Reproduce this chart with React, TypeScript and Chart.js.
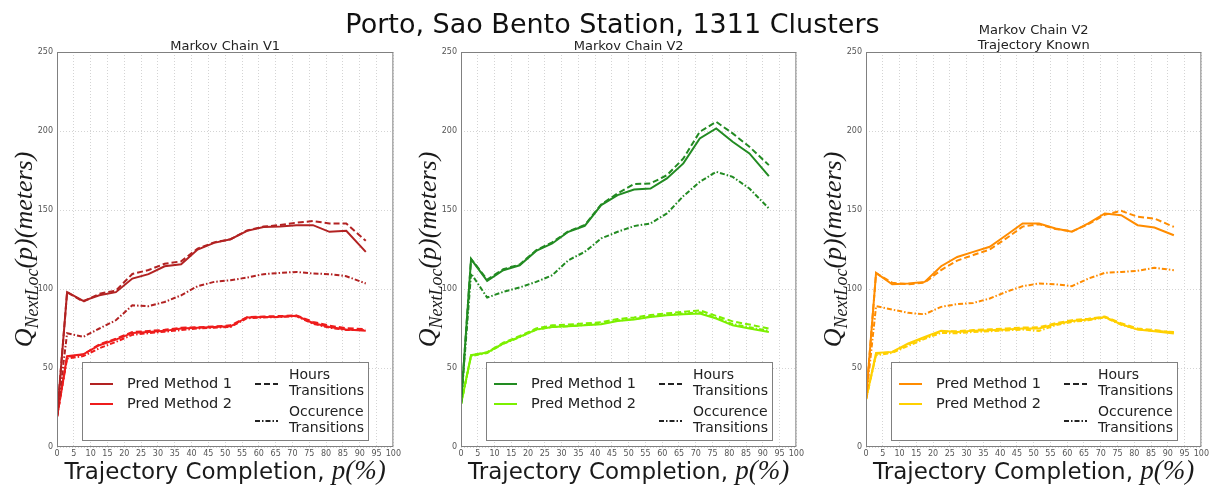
import React, { useEffect, useRef } from "react";
import { Chart, registerables } from "chart.js";
Chart.register(...registerables);

// ---------- data ----------
const COMPLETION = [0, 3, 7.8, 12.6, 17.5, 22.4, 27.2, 32, 36.9, 41.8, 46.7, 51.6, 56.5, 61.4, 66.3, 71.2, 76.1, 81, 86, 91.8];

const MAIN_TITLE = "Porto, Sao Bento Station, 1311 Clusters";
const PANEL_TITLES = [["Markov Chain V1"], ["Markov Chain V2"], ["Markov Chain V2", "Trajectory Known"]];
const LEGEND_METHODS = ["Pred Method 1", "Pred Method 2"];
const LEGEND_STYLES = [["Hours", "Transitions"], ["Occurence", "Transitions"]];

// Markov Chain V1
const v1Pred1 = [19, 98, 92.5, 96, 98, 106.6, 109.4, 114.4, 115.7, 125, 129.2, 131.5, 136.8, 139.3, 139.5, 140.4, 140.4, 136.2, 136.8, 123.5];
const v1Pred1Hours = [19, 98, 92, 97, 99, 109.5, 112, 116, 117.5, 125.5, 129.5, 131.5, 137, 139.5, 140.5, 142, 143, 141.5, 141.5, 130.5];
const v1Pred1Occ = [19, 72, 69.7, 75, 80.2, 89.7, 89.1, 91.8, 96, 101.8, 104.5, 105.6, 107.2, 109.4, 110.2, 110.8, 109.8, 109.4, 108.1, 103.5];
const v1Pred2 = [19, 57.5, 58.7, 64.4, 68, 72.2, 72.8, 73.5, 75, 75.4, 76, 76.4, 82, 82.3, 82.5, 83, 78.5, 76, 74.3, 73.5];
const v1Pred2Hours = [19, 57, 58.5, 65, 68.5, 72.8, 73.4, 74.2, 75.5, 75.8, 76.3, 77, 82.2, 82.6, 82.9, 83.3, 79.2, 76.8, 75.2, 74.5];
const v1Pred2Occ = [19, 56, 57.5, 62.5, 66.5, 71, 72, 73, 74, 75, 75.5, 76, 81.5, 82, 82.3, 82.8, 78, 75.5, 74, 74];

// Markov Chain V2
const v2Pred1 = [27, 118.9, 105.2, 111.9, 115, 124.1, 128.8, 136.2, 140, 153.1, 159.4, 163, 163.6, 170, 179.5, 195.3, 201.6, 193.2, 185.8, 171.4];
const v2Pred1Hours = [27, 119, 106, 112.5, 115.5, 124.5, 129.5, 136.5, 140.5, 153.5, 160.5, 166.4, 166.8, 172, 182.6, 199.5, 205.8, 198.5, 190, 178.4];
const v2Pred1Occ = [27, 109.8, 94.6, 98.2, 101, 104.5, 108.7, 118.2, 123.5, 132, 136.2, 139.8, 141.5, 147.8, 158.8, 167.8, 174.2, 171, 163.6, 151];
const v2Pred2 = [27, 58.1, 59.8, 65.5, 69.7, 74.3, 76, 76.4, 77, 77.7, 79.8, 80.7, 82.3, 83.4, 84, 84.5, 81.3, 77, 75, 72.8];
const v2Pred2Hours = [27, 58, 60, 66, 70.3, 75, 77, 77.5, 78.2, 79, 81, 82, 83.5, 84.6, 85.5, 86.5, 83, 79.5, 77.5, 75];
const v2Pred2Occ = [27, 57.5, 59.5, 65.3, 69.5, 74.2, 76, 76.5, 77.2, 78, 80, 81, 82.6, 83.8, 84.5, 85.2, 81.8, 77.8, 75.8, 73.5];

// Markov Chain V2, Trajectory Known
const v3Pred1 = [30, 110.2, 103, 103.5, 104.5, 114.4, 120.3, 123.5, 126.7, 134, 141.5, 141.5, 138.3, 136.2, 141.5, 147.8, 146.7, 140.4, 138.9, 134];
const v3Pred1Hours = [30, 110, 104, 103, 104, 112, 118, 121.5, 125, 132, 139.5, 141, 138, 136.5, 141, 147, 149.5, 145.7, 144.6, 139.3];
const v3Pred1Occ = [30, 89.1, 87, 84.9, 84, 88.7, 90.4, 91.2, 94, 98.2, 101.8, 103.5, 103, 101.8, 106.6, 110.2, 110.8, 111.5, 113.4, 111.9];
const v3Pred2 = [30, 59.5, 60.2, 65.5, 69.7, 73.5, 72.8, 73.5, 73.9, 74.3, 75, 75, 77.7, 79.8, 80.7, 82.3, 77.7, 74.3, 73.3, 71.8];
const v3Pred2Hours = [30, 59, 60, 65, 69.2, 73, 73.3, 74, 74.5, 75, 75.6, 75.8, 78.3, 80.3, 81.2, 82.6, 78.3, 75, 74, 72.5];
const v3Pred2Occ = [30, 58, 59.5, 64, 68.5, 72.2, 72, 72.8, 73.3, 73.8, 74.3, 73.5, 77, 79.2, 80.2, 82, 77.3, 74.5, 73.5, 72.8];

// ---------- styling ----------
const SANS = '"DejaVu Sans", sans-serif';
const SERIF = '"Liberation Serif", "DejaVu Serif", serif';
const DASH_HOURS = [6, 3];
const DASH_OCC = [5, 2, 1.5, 2];

const PANELS = [
  {
    left: 0, width: 403, plotLeft: 57, plotRight: 395,
    titles: PANEL_TITLES[0], titleBaselines: [50],
    colors: ["#b22222", "#ee1c1c"],
    series: [[v1Pred1, v1Pred1Hours, v1Pred1Occ], [v1Pred2, v1Pred2Hours, v1Pred2Occ]],
  },
  {
    left: 403, width: 403, plotLeft: 461, plotRight: 798,
    titles: PANEL_TITLES[1], titleBaselines: [50],
    colors: ["#228b22", "#7cf000"],
    series: [[v2Pred1, v2Pred1Hours, v2Pred1Occ], [v2Pred2, v2Pred2Hours, v2Pred2Occ]],
  },
  {
    left: 806, width: 405, plotLeft: 866, plotRight: 1203,
    titles: PANEL_TITLES[2], titleBaselines: [34, 49],
    colors: ["#ff8c00", "#ffd000"],
    series: [[v3Pred1, v3Pred1Hours, v3Pred1Occ], [v3Pred2, v3Pred2Hours, v3Pred2Occ]],
  },
];

const PLOT_TOP = 52;
const PLOT_BOTTOM = 447;
const H = 486;

function decorPlugin(p: any) {
  return {
    id: "decor",
    afterDraw(chart: any) {
      const ctx = chart.ctx;
      const a = chart.chartArea;
      ctx.save();
      // frame
      ctx.strokeStyle = "#808080";
      ctx.lineWidth = 1;
      ctx.setLineDash([]);
      ctx.strokeRect(a.left + 0.5, a.top + 0.5, a.right - a.left - 1, a.bottom - a.top - 1);

      // subplot title
      ctx.fillStyle = "#222";
      ctx.font = `13px ${SANS}`;
      ctx.textAlign = "center";
      ctx.textBaseline = "alphabetic";
      const cx = (a.left + a.right) / 2;
      p.titles.forEach((t: string, i: number) => ctx.fillText(t, cx, p.titleBaselines[i]));

      // y label Q_{NextLoc}(p)(meters)
      ctx.save();
      ctx.translate(a.left - 25, (a.top + a.bottom) / 2);
      ctx.rotate(-Math.PI / 2);
      ctx.textAlign = "left";
      ctx.fillStyle = "#1a1a1a";
      const fMain = `italic 26px ${SERIF}`;
      const fSub = `italic 18px ${SERIF}`;
      ctx.font = fMain;
      const wQ = ctx.measureText("Q").width;
      const wRest = ctx.measureText("(p)(meters)").width;
      ctx.font = fSub;
      const wSub = ctx.measureText("NextLoc").width;
      let x = -(wQ + wSub + wRest) / 2;
      ctx.font = fMain;
      ctx.fillText("Q", x, 0);
      x += wQ;
      ctx.font = fSub;
      ctx.fillText("NextLoc", x, 6);
      x += wSub;
      ctx.font = fMain;
      ctx.fillText("(p)(meters)", x, 0);
      ctx.restore();

      // x label
      const part1 = "Trajectory Completion, ";
      const part2 = "p(%)";
      ctx.font = `23px ${SANS}`;
      const w1 = ctx.measureText(part1).width;
      ctx.font = `italic 27px ${SERIF}`;
      const w2 = ctx.measureText(part2).width;
      const sx = cx - (w1 + w2) / 2;
      ctx.textAlign = "left";
      ctx.fillStyle = "#1a1a1a";
      ctx.font = `23px ${SANS}`;
      ctx.fillText(part1, sx, 479);
      ctx.font = `italic 27px ${SERIF}`;
      ctx.fillText(part2, sx + w1, 479);

      // legend
      const bx = a.left + 25;
      const by = a.top + 310;
      const bw = 286;
      const bh = 78;
      ctx.fillStyle = "#ffffff";
      ctx.fillRect(bx, by, bw, bh);
      ctx.strokeStyle = "#808080";
      ctx.lineWidth = 1;
      ctx.strokeRect(bx + 0.5, by + 0.5, bw, bh);

      ctx.textBaseline = "middle";
      ctx.lineWidth = 2;
      ctx.font = `14.5px ${SANS}`;
      LEGEND_METHODS.forEach((label, i) => {
        const yy = by + 22 + i * 20;
        ctx.strokeStyle = p.colors[i];
        ctx.setLineDash([]);
        ctx.beginPath();
        ctx.moveTo(bx + 8, yy);
        ctx.lineTo(bx + 31, yy);
        ctx.stroke();
        ctx.fillStyle = "#222";
        ctx.fillText(label, bx + 45, yy);
      });
      ctx.font = `14px ${SANS}`;
      const dashes = [DASH_HOURS, DASH_OCC];
      const sampleY = [by + 22, by + 59];
      const textY = [[by + 13, by + 29], [by + 50, by + 66]];
      LEGEND_STYLES.forEach((lines, i) => {
        ctx.strokeStyle = "#222";
        ctx.setLineDash(dashes[i]);
        ctx.beginPath();
        ctx.moveTo(bx + 173, sampleY[i]);
        ctx.lineTo(bx + 196, sampleY[i]);
        ctx.stroke();
        ctx.setLineDash([]);
        ctx.fillStyle = "#222";
        lines.forEach((t, j) => ctx.fillText(t, bx + 207, textY[i][j]));
      });
      ctx.restore();
    },
  };
}

function Panel({ p }: { p: any }) {
  const ref = useRef<HTMLCanvasElement | null>(null);
  useEffect(() => {
    if (!ref.current) return;
    const styles = [[], DASH_HOURS, DASH_OCC];
    const datasets: any[] = [];
    p.series.forEach((group: number[][], m: number) => {
      group.forEach((vals: number[], s: number) => {
        datasets.push({
          label: `${LEGEND_METHODS[m]} ${s}`,
          data: vals.map((v, i) => ({ x: COMPLETION[i], y: v })),
          borderColor: p.colors[m],
          backgroundColor: p.colors[m],
          borderWidth: 2,
          borderDash: styles[s],
          pointRadius: 0,
          tension: 0,
          fill: false,
        });
      });
    });
    const tickFont = { size: 8, family: SANS };
    const chart = new Chart(ref.current, {
      type: "line",
      data: { datasets },
      options: {
        animation: false,
        responsive: false,
        maintainAspectRatio: false,
        layout: {
          padding: { top: PLOT_TOP, left: 0, right: p.left + p.width - p.plotRight, bottom: 0 },
        },
        plugins: { legend: { display: false }, tooltip: { enabled: false }, title: { display: false } },
        scales: {
          x: {
            type: "linear",
            min: 0,
            max: 100,
            ticks: { stepSize: 5, autoSkip: false, maxRotation: 0, font: tickFont, color: "#555", padding: 2 },
            grid: { color: "#d4d4d4", lineWidth: 1, drawTicks: false },
            border: { display: false, dash: [1, 2] },
            afterFit: (s: any) => { s.height = H - PLOT_BOTTOM; },
          },
          y: {
            min: 0,
            max: 250,
            ticks: { stepSize: 50, font: tickFont, color: "#555", padding: 4 },
            grid: { color: "#d4d4d4", lineWidth: 1, drawTicks: false },
            border: { display: false, dash: [1, 2] },
            afterFit: (s: any) => { s.width = p.plotLeft - p.left; },
          },
        },
      } as any,
      plugins: [decorPlugin(p)],
    });
    return () => chart.destroy();
  }, [p]);
  return (
    <canvas
      ref={ref}
      width={p.width}
      height={H}
      style={{ position: "absolute", left: p.left, top: 0, width: p.width, height: H }}
    />
  );
}

export default function App() {
  return (
    <div style={{ position: "fixed", left: 0, top: 0, width: 1211, height: H, background: "#fff", overflow: "hidden" }}>
      {PANELS.map((p, i) => (
        <Panel key={i} p={p} />
      ))}
      <div
        style={{
          position: "absolute",
          left: 7,
          top: 10,
          width: 1211,
          textAlign: "center",
          fontFamily: SANS,
          fontSize: 27,
          lineHeight: "27px",
          color: "#111",
          whiteSpace: "nowrap",
        }}
      >
        {MAIN_TITLE}
      </div>
    </div>
  );
}
